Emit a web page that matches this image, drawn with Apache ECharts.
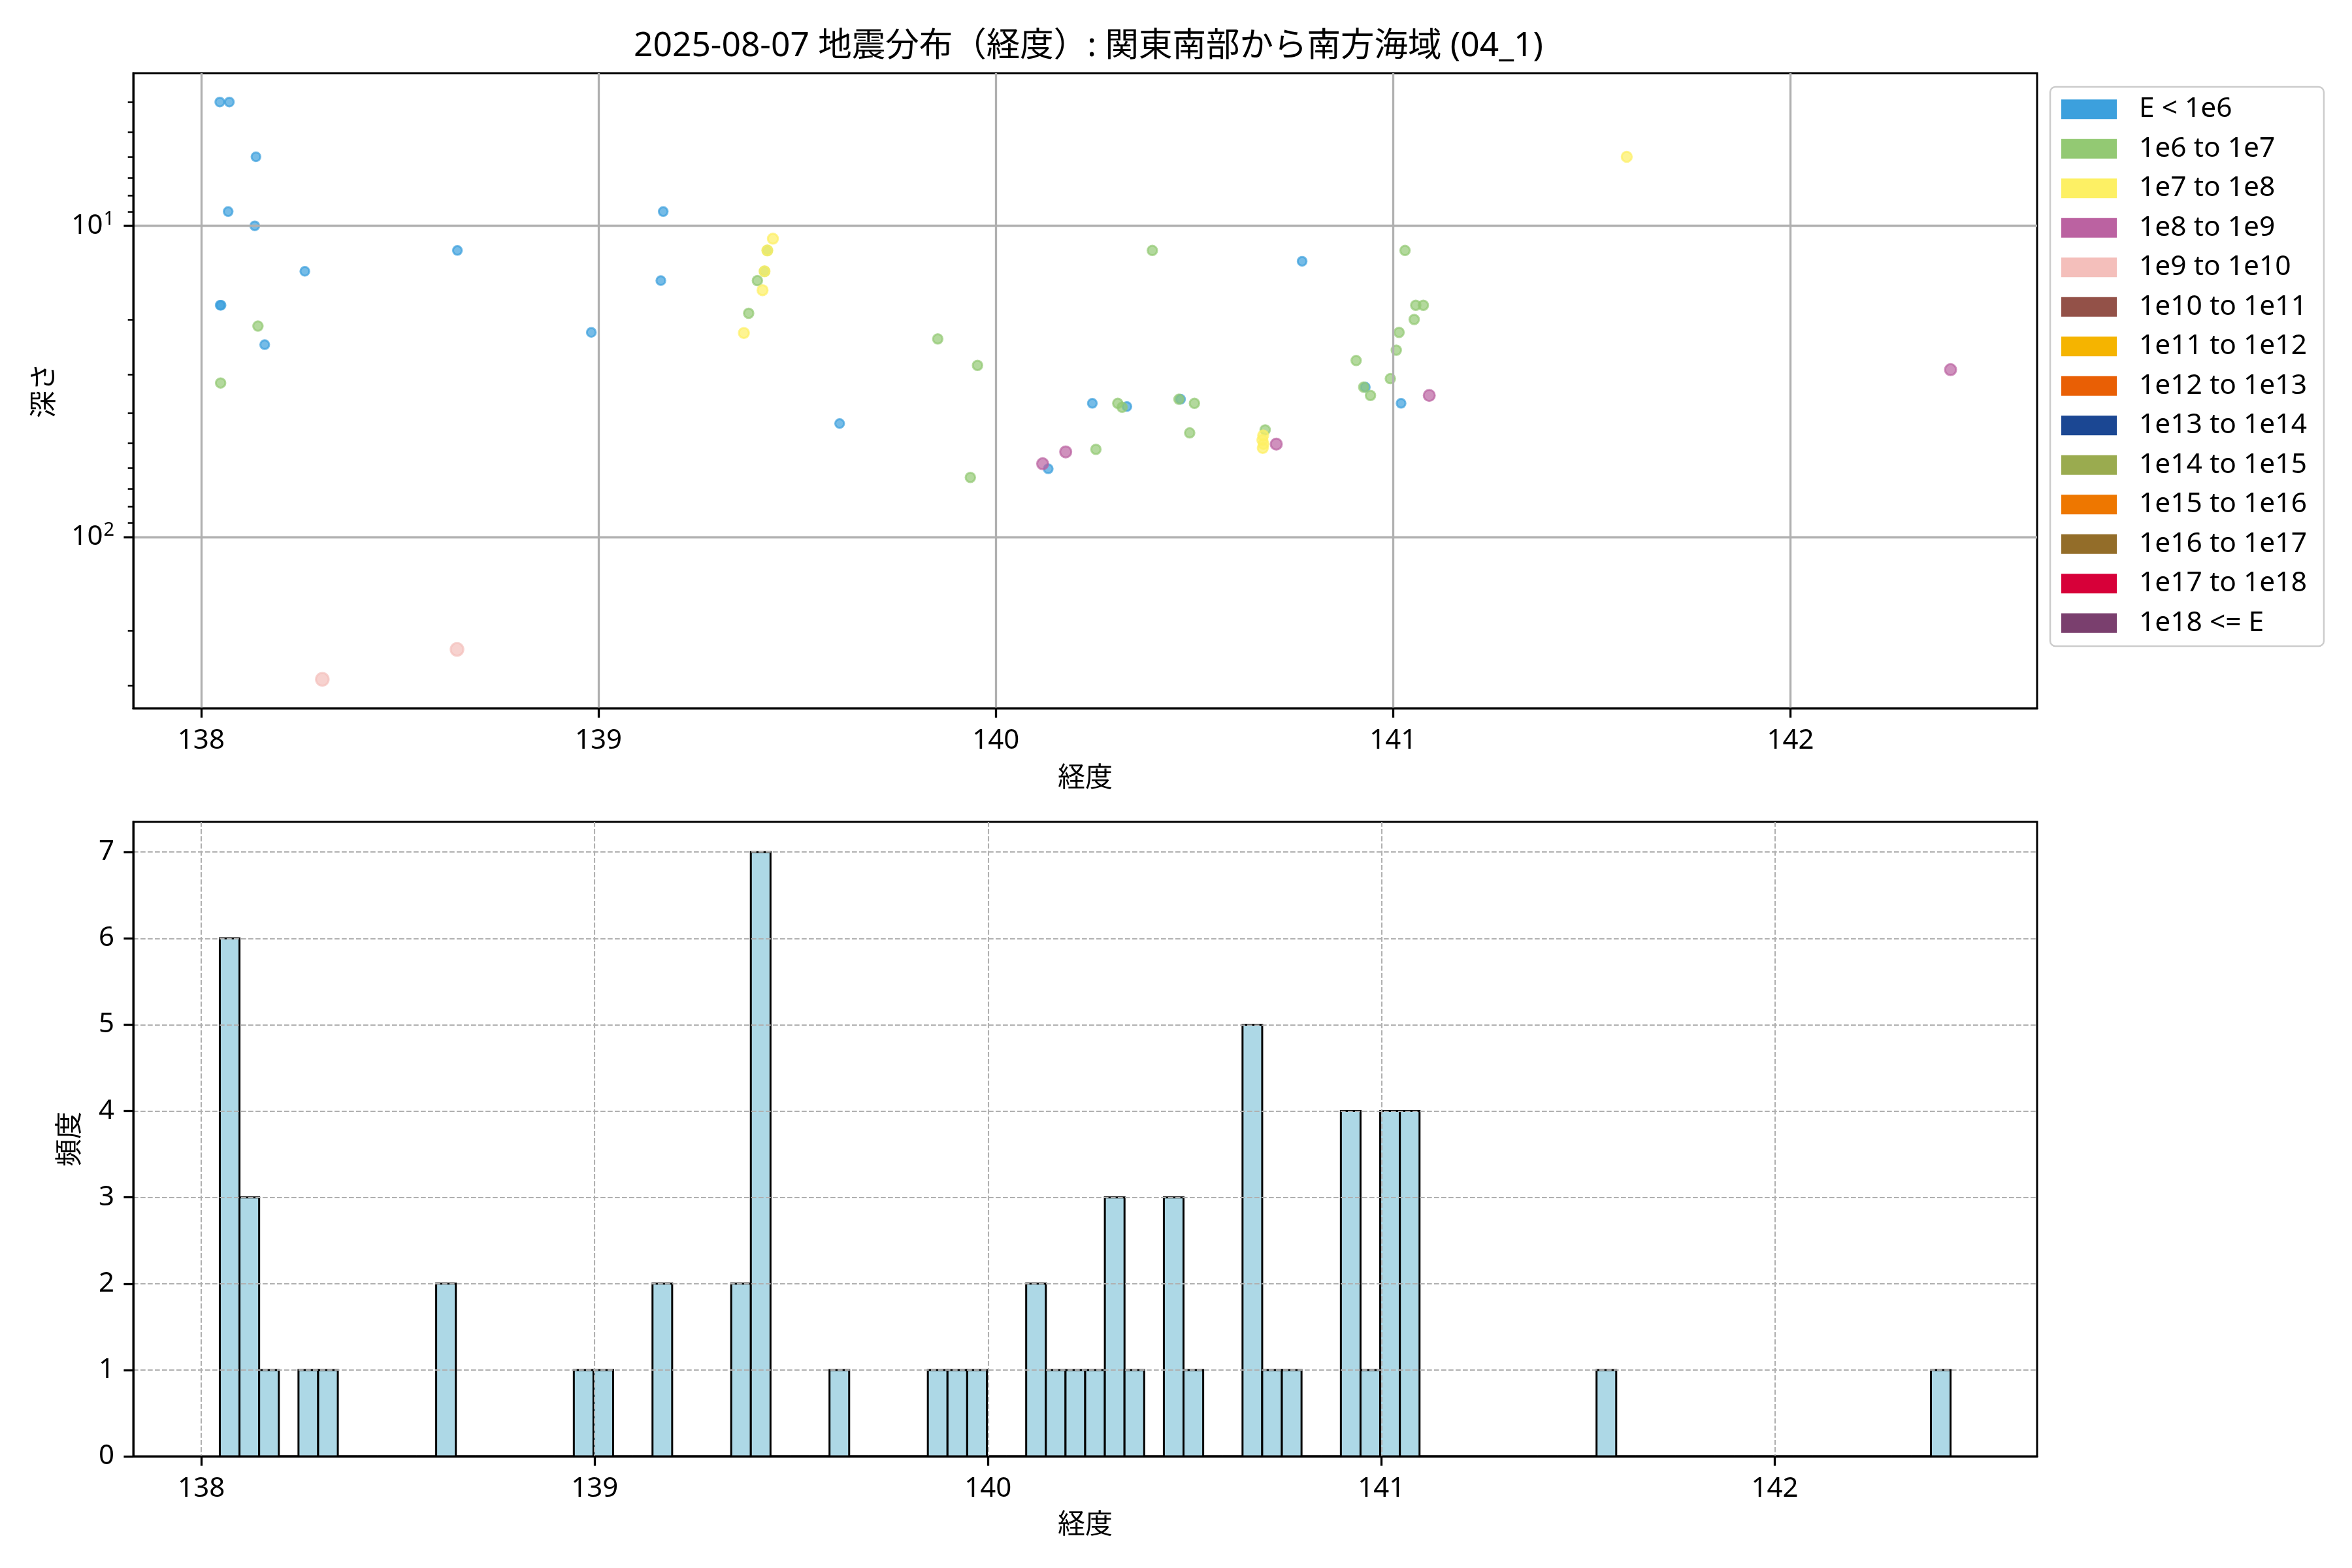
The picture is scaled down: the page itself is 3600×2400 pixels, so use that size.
<!DOCTYPE html>
<html><head><meta charset="utf-8">
<script src="https://cdn.jsdelivr.net/npm/echarts@6/dist/echarts.min.js"></script>
<style>html,body{margin:0;padding:0;background:#fff}#c{width:3600px;height:2400px}</style>
</head><body><div id="c"></div>
<script>
const chartTitle = '2025-08-07 地震分布（経度）: 関東南部から南方海域 (04_1)';
const energyClasses = ['E < 1e6','1e6 to 1e7','1e7 to 1e8','1e8 to 1e9','1e9 to 1e10','1e10 to 1e11','1e11 to 1e12','1e12 to 1e13','1e13 to 1e14','1e14 to 1e15','1e15 to 1e16','1e16 to 1e17','1e17 to 1e18','1e18 <= E'];

// longitude / depth (km) of events, per energy class
const lonE6 = [138.047,138.071,138.138,138.068,138.135,139.163,138.645,138.261,139.157,138.048,138.050,138.982,138.160,140.771,139.607,140.243,140.330,140.465,140.132,140.930,141.020,139.020];
const depE6 = [4.0,4.0,6.0,9.0,10.0,9.0,12.0,14.0,15.0,18.0,18.0,22.0,24.1,13.0,43.2,37.2,38.1,36.1,60.4,33.0,37.2,0];
const lonE7 = [138.143,138.049,139.400,139.378,139.425,139.418,139.854,140.394,139.954,140.307,140.318,140.461,140.500,140.488,140.252,139.936,141.030,141.057,141.076,141.053,141.015,141.008,140.907,140.993,140.926,140.943,140.678];
const depE7 = [21.0,32.0,15.0,19.1,12.0,14.0,23.1,12.0,28.1,37.2,38.3,36.1,37.2,46.3,52.3,64.4,12.0,18.0,18.0,20.0,22.0,25.1,27.1,31.0,33.0,35.1,45.3];
const lonE8 = [139.439,139.425,139.418,139.413,139.366,141.588,140.673,140.671,140.674,140.672];
const depE8 = [11.0,12.0,14.0,16.1,22.1,6.0,47.2,48.8,50.3,51.8];
const lonE9 = [140.118,140.176,141.091,142.403,140.706];
const depE9 = [58.2,53.3,35.1,29.0,50.3];
const lonE10 = [138.305,138.644];
const depE10 = [287,230];

const xTicks = [138,139,140,141,142];
const depthMajorTicks = [10,100];
const depthMinorTicks = [4,5,6,7,8,9,20,30,40,50,60,70,80,90,200,300];
const countTicks = [0,1,2,3,4,5,6,7];
const histBinWidth = 0.05;

// styles
const classColors = ['#3ca0dd','#93c973','#fdf064','#bb62a1','#f4bfbb','#935148','#f5b400','#e95f05','#1b4793','#9aab4f','#ee7700','#936d29','#d70039','#7a3f6e'];
const classSizes = [13.5,14.5,15.5,17,19.5,20,20,20,20,20,20,20,20,20];
const FONT = "'Noto Sans', 'Noto Sans CJK JP'";
const FS = 42;

const lonSets = [lonE6,lonE7,lonE8,lonE9,lonE10];
const depSets = [depE6,depE7,depE8,depE9,depE10];

const allLon = [].concat(...lonSets);
const visLon = [], visDep = [];
lonSets.forEach((ls,i)=>ls.forEach((x,j)=>{ if (depSets[i][j] > 0) { visLon.push(x); visDep.push(depSets[i][j]); } }));

// top axis ranges (5% margins, log for depth)
const xa = Math.min(...visLon), xb = Math.max(...visLon);
const xMin0 = xa - 0.05*(xb-xa), xMax0 = xb + 0.05*(xb-xa);
const la = Math.log10(Math.min(...visDep)), lb = Math.log10(Math.max(...visDep));
const yMin0 = Math.pow(10, la - 0.05*(lb-la)), yMax0 = Math.pow(10, lb + 0.05*(lb-la));

// histogram
const hMin = Math.min(...allLon), hMax = Math.max(...allLon);
const edges = [];
for (let k=0; hMin + k*histBinWidth < hMax + histBinWidth - 1e-9; k++) edges.push(hMin + k*histBinWidth);
const nBins = edges.length - 1;
const counts = new Array(nBins).fill(0);
allLon.forEach(x => { let k = Math.floor((x - hMin)/histBinWidth + 1e-9); if (k >= nBins) k = nBins-1; counts[k]++; });
const histData = counts.map((c,k)=>[edges[k], edges[k+1], c]);
const ha = edges[0], hb = edges[nBins];
const xMin1 = ha - 0.05*(hb-ha), xMax1 = hb + 0.05*(hb-ha);
const yMax1 = Math.max(...counts)*1.05;

const axisLineStyle = {show:true, onZero:false, lineStyle:{color:'#000', width:3}};
const labelStyle = {color:'#000', fontSize:FS, fontFamily:FONT};

const scatterSeries = energyClasses.map((name,i)=>{
  const ls = lonSets[i] || [], ds = depSets[i] || [];
  const data = [];
  ls.forEach((x,j)=>{ if (ds[j] > 0) data.push([x, ds[j]]); });
  return {
    type:'scatter', name, xAxisIndex:0, yAxisIndex:0, data,
    symbol:'circle', symbolSize: classSizes[i],
    itemStyle:{color:classColors[i], opacity:0.7, borderColor:classColors[i], borderWidth:3},
    emphasis:{disabled:true}, z:2
  };
});

const chart = echarts.init(document.getElementById('c'), null, {renderer:'canvas', width:3600, height:2400});
chart.setOption({
  animation:false,
  backgroundColor:'#fff',
  textStyle:{fontFamily:FONT},
  title:{text:chartTitle, left:1661, top:41, textAlign:'center', textStyle:{fontSize:51.5, fontWeight:'normal', color:'#000', fontFamily:FONT}},
  legend:{
    data:energyClasses, orient:'vertical', left:3138, top:133,
    itemWidth:85, itemHeight:30, itemGap:18, padding:[13,26,14,17],
    borderColor:'#cccccc', borderWidth:2.5, borderRadius:8, backgroundColor:'rgba(255,255,255,0.8)',
    icon:'rect', selectedMode:false,
    itemStyle:{opacity:1, borderWidth:0},
    textStyle:{fontSize:42.5, color:'#000', fontFamily:FONT, padding:[0,0,0,29], lineHeight:42}
  },
  grid:[
    {left:204, top:112, width:2914, height:972, show:true, borderColor:'#000', borderWidth:3, backgroundColor:'transparent', containLabel:false},
    {left:204, top:1258, width:2914, height:971, show:true, borderColor:'#000', borderWidth:3, backgroundColor:'transparent', containLabel:false}
  ],
  xAxis:[
    {gridIndex:0, type:'value', position:'bottom', min:xMin0, max:xMax0, z:5,
     axisLine:axisLineStyle,
     axisTick:{show:true, customValues:xTicks, length:14.6, lineStyle:{color:'#000', width:3.3}},
     axisLabel:Object.assign({customValues:xTicks, margin:29}, labelStyle),
     splitLine:{show:true, lineStyle:{color:'#b0b0b0', width:3.3}},
     name:'経度', nameLocation:'middle', nameGap:87, nameTextStyle:labelStyle},
    {gridIndex:1, type:'value', position:'bottom', min:xMin1, max:xMax1, z:5,
     axisLine:axisLineStyle,
     axisTick:{show:true, customValues:xTicks, length:14.6, lineStyle:{color:'#000', width:3.3}},
     axisLabel:Object.assign({customValues:xTicks, margin:29}, labelStyle),
     splitLine:{show:true, lineStyle:{color:'#b0b0b0', width:2.1, type:[7.7,3.3]}},
     name:'経度', nameLocation:'middle', nameGap:85, nameTextStyle:labelStyle}
  ],
  yAxis:[
    {gridIndex:0, type:'log', logBase:10, position:'left', inverse:true, min:yMin0, max:yMax0, z:5,
     axisLine:axisLineStyle,
     axisTick:{show:true, customValues:depthMajorTicks, length:14.6, lineStyle:{color:'#000', width:3.3}},
     axisLabel:{customValues:depthMajorTicks, margin:29, color:'#000',
       formatter:v=>'{a|10}{b|'+Math.round(Math.log10(v))+'}',
       rich:{a:{fontSize:FS, fontFamily:FONT, color:'#000'}, b:{fontSize:29, fontFamily:FONT, color:'#000', padding:[0,0,20,1]}}},
     splitLine:{show:true, lineStyle:{color:'#b0b0b0', width:3.3}},
     name:'深さ', nameLocation:'middle', nameGap:114, nameTextStyle:labelStyle},
    {gridIndex:0, type:'log', logBase:10, position:'left', offset:0, inverse:true, min:yMin0, max:yMax0, z:5,
     axisLine:{show:false},
     axisTick:{show:true, customValues:depthMinorTicks, length:8.3, lineStyle:{color:'#000', width:2.5}},
     axisLabel:{show:false},
     splitLine:{show:false}},
    {gridIndex:1, type:'value', position:'left', min:0, max:yMax1, z:5,
     axisLine:axisLineStyle,
     axisTick:{show:true, customValues:countTicks, length:14.6, lineStyle:{color:'#000', width:3.3}},
     axisLabel:Object.assign({customValues:countTicks, margin:29}, labelStyle),
     splitLine:{show:true, lineStyle:{color:'#b0b0b0', width:2.1, type:[7.7,3.3]}},
     name:'頻度', nameLocation:'middle', nameGap:75, nameTextStyle:labelStyle}
  ],
  series: scatterSeries.concat([{
    type:'custom', name:'hist', xAxisIndex:1, yAxisIndex:2, data:histData, z:2,
    encode:{x:[0,1], y:2},
    renderItem:(params, api)=>{
      const p0 = api.coord([api.value(0), api.value(2)]);
      const p1 = api.coord([api.value(1), 0]);
      return {type:'rect', shape:{x:p0[0], y:p0[1], width:p1[0]-p0[0], height:p1[1]-p0[1]},
              style:{fill:'#add8e6', stroke:'#000', lineWidth:3}};
    }
  }])
});
</script></body></html>
